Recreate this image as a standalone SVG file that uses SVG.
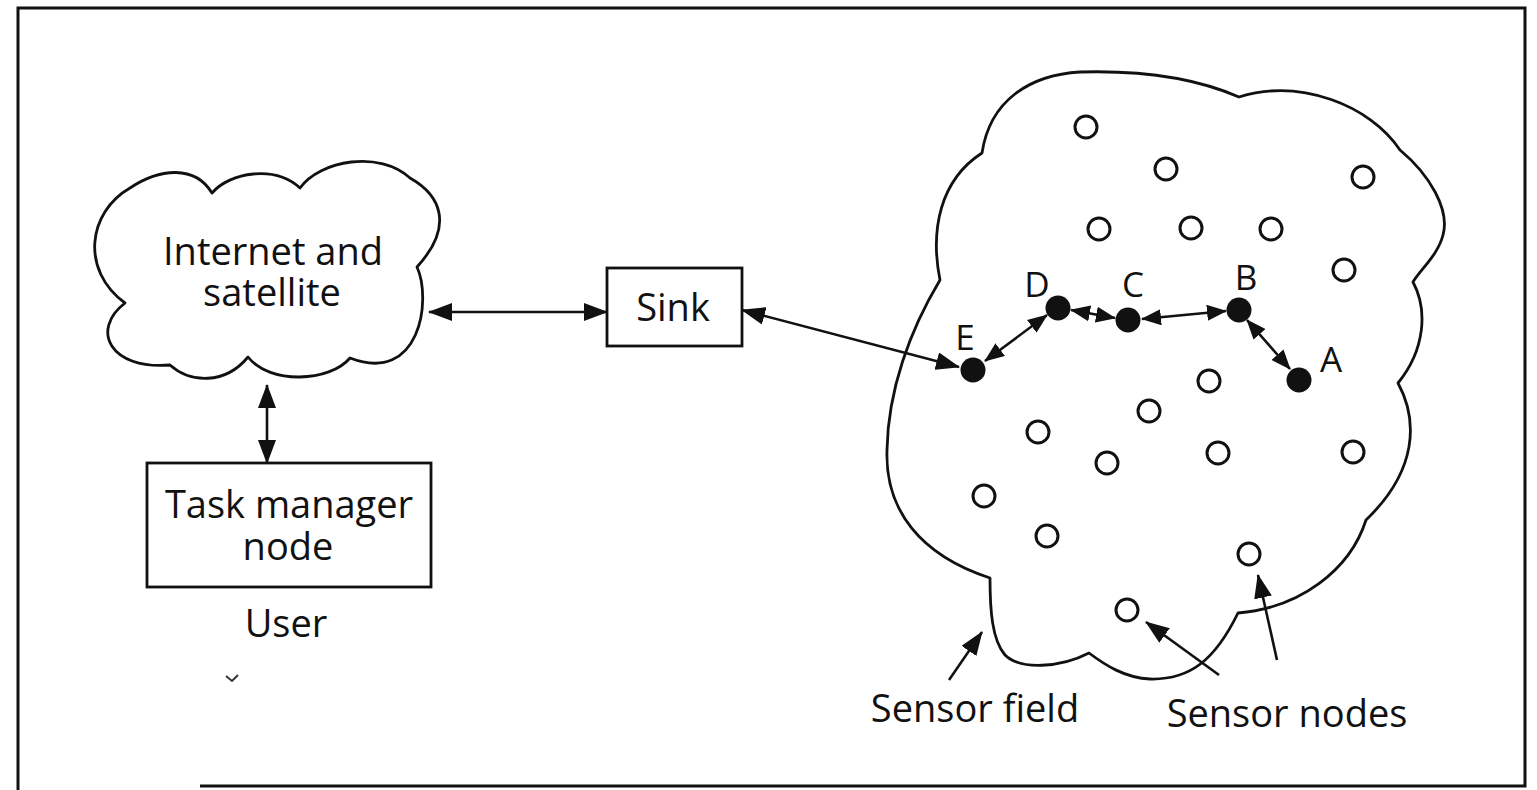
<svg xmlns="http://www.w3.org/2000/svg" width="1537" height="790" viewBox="0 0 1537 790">
<style>
  text { font-family: "Open Sans", "Noto Sans", "Liberation Sans", sans-serif; fill: #111; }
  .lbl { font-size: 38px; text-anchor: middle; }
  .let { font-size: 35px; text-anchor: middle; }
  .outline { fill: none; stroke: #111; stroke-width: 2.8; stroke-linejoin: round; }
  .box { fill: #fff; stroke: #111; stroke-width: 2.8; }
  .conn { fill: none; stroke: #111; stroke-width: 2.6; }
  .sn { fill: #fff; stroke: #111; stroke-width: 3; }
  .an { fill: #111; }
</style>
<defs>
  <marker id="ah" markerUnits="userSpaceOnUse" markerWidth="24" markerHeight="18" refX="23" refY="9" orient="auto-start-reverse">
    <path d="M0,0 L24,9 L0,18 z" fill="#111"/>
  </marker>
  <marker id="ahs" markerUnits="userSpaceOnUse" markerWidth="20" markerHeight="16" refX="19" refY="8" orient="auto-start-reverse">
    <path d="M0,0 L20,8 L0,16 z" fill="#111"/>
  </marker>
</defs>
<rect width="1537" height="790" fill="#fff"/>
<path d="M200,786 H1525 V8 H18 V790" fill="none" stroke="#111" stroke-width="3"/>

<g id="internet">
  <path class="outline" d="M212,193 C230,172 275,165 300,188 C320,160 380,150 410,178 C440,195 455,225 417,267 C432,300 420,385 350,358 C330,382 270,385 248,357 C225,385 190,383 170,365 C110,370 90,330 125,303 C80,270 88,212 130,188 C160,168 195,165 212,193 Z"/>
  <text class="lbl" x="273" y="265">Internet and</text>
  <text class="lbl" x="272" y="306">satellite</text>
</g>

<g id="sink">
  <rect class="box" x="607" y="268" width="135" height="78"/>
  <text class="lbl" x="673" y="321">Sink</text>
</g>

<g id="taskmanager">
  <rect class="box" x="147" y="463" width="284" height="124"/>
  <text class="lbl" x="289" y="518">Task manager</text>
  <text class="lbl" x="288" y="560">node</text>
  <text class="lbl" x="286" y="637">User</text>
</g>
<path d="M226,676 L232,681 L238,675" fill="none" stroke="#333" stroke-width="2"/>

<g id="sensorfield">
  <path class="outline" d="M982,153 C990,100 1030,75 1080,72 C1150,70 1200,80 1239,97 C1300,78 1370,105 1400,150 C1430,175 1450,210 1443,235 C1438,255 1420,270 1413,282 C1428,310 1425,350 1398,383 C1418,420 1418,470 1366,520 C1350,570 1300,608 1238,613 C1215,660 1190,680 1150,679 C1125,678 1105,665 1089,653 C1060,668 1020,670 1005,655 C992,640 990,610 990,578 C920,555 885,510 887,450 C888,390 910,330 940,280 C930,230 940,180 982,153 Z"/>
  <text class="lbl" x="975" y="722">Sensor field</text>
  <text class="lbl" x="1287" y="727">Sensor nodes</text>
</g>

<g id="sensornodes">
  <circle class="sn" cx="1086" cy="127" r="11"/>
  <circle class="sn" cx="1166" cy="169" r="11"/>
  <circle class="sn" cx="1363" cy="177" r="11"/>
  <circle class="sn" cx="1099" cy="229" r="11"/>
  <circle class="sn" cx="1191" cy="228" r="11"/>
  <circle class="sn" cx="1271" cy="229" r="11"/>
  <circle class="sn" cx="1344" cy="270" r="11"/>
  <circle class="sn" cx="1209" cy="381" r="11"/>
  <circle class="sn" cx="1149" cy="411" r="11"/>
  <circle class="sn" cx="1038" cy="432" r="11"/>
  <circle class="sn" cx="1107" cy="463" r="11"/>
  <circle class="sn" cx="1218" cy="453" r="11"/>
  <circle class="sn" cx="1353" cy="452" r="11"/>
  <circle class="sn" cx="984" cy="496" r="11"/>
  <circle class="sn" cx="1047" cy="536" r="11"/>
  <circle class="sn" cx="1249" cy="554" r="11"/>
  <circle class="sn" cx="1127" cy="610" r="11"/>
</g>

<g id="nodeA"><circle class="an" cx="1299" cy="380" r="12.5"/><text class="let" x="1331" y="372">A</text></g>
<g id="nodeB"><circle class="an" cx="1239" cy="310" r="12.5"/><text class="let" x="1246" y="290">B</text></g>
<g id="nodeC"><circle class="an" cx="1128" cy="320" r="12.5"/><text class="let" x="1133" y="297">C</text></g>
<g id="nodeD"><circle class="an" cx="1058" cy="308" r="12.5"/><text class="let" x="1037" y="297">D</text></g>
<g id="nodeE"><circle class="an" cx="973" cy="370" r="12.5"/><text class="let" x="965" y="350">E</text></g>

<g id="connectors">
  <line class="conn" x1="429" y1="312" x2="607" y2="312" marker-start="url(#ah)" marker-end="url(#ah)"/>
  <line class="conn" x1="267" y1="385" x2="267" y2="463" marker-start="url(#ah)" marker-end="url(#ah)"/>
  <line class="conn" x1="742" y1="310" x2="959" y2="367" marker-start="url(#ah)" marker-end="url(#ah)"/>
  <line class="conn" x1="985" y1="361" x2="1047" y2="315" marker-start="url(#ahs)" marker-end="url(#ahs)"/>
  <line class="conn" x1="1071" y1="310" x2="1115" y2="318" marker-start="url(#ahs)" marker-end="url(#ahs)"/>
  <line class="conn" x1="1142" y1="319" x2="1226" y2="311" marker-start="url(#ahs)" marker-end="url(#ahs)"/>
  <line class="conn" x1="1247" y1="320" x2="1290" y2="369" marker-start="url(#ahs)" marker-end="url(#ahs)"/>
  <line class="conn" x1="949" y1="680" x2="982" y2="632" marker-end="url(#ah)"/>
  <line class="conn" x1="1219" y1="675" x2="1146" y2="622" marker-end="url(#ah)"/>
  <line class="conn" x1="1277" y1="660" x2="1258" y2="575" marker-end="url(#ah)"/>
</g>
</svg>
